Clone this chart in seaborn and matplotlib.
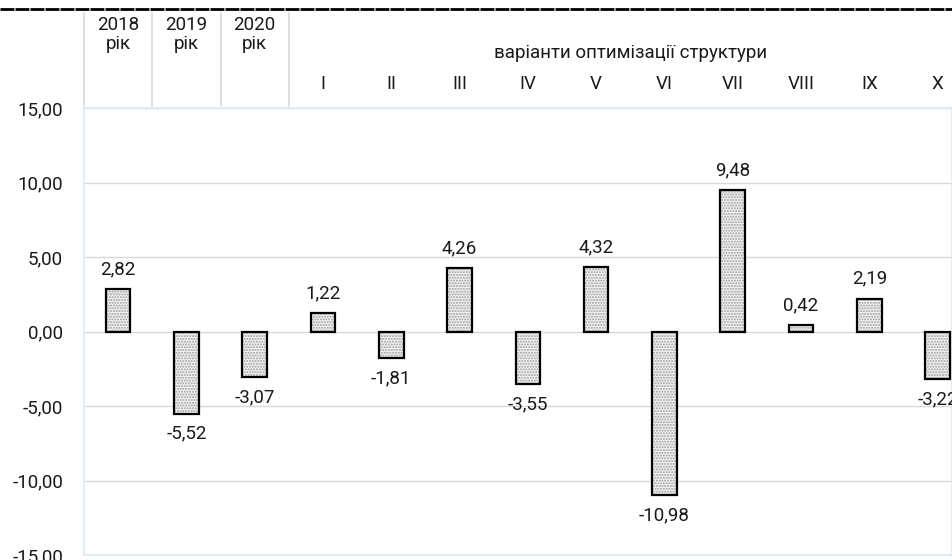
import matplotlib
matplotlib.use("Agg")
import matplotlib.pyplot as plt
from matplotlib.patches import Rectangle
from matplotlib.lines import Line2D
import matplotlib.transforms as mtransforms
import seaborn as sns

# Data
categories = ["2018", "2019", "2020", "I", "II", "III", "IV", "V",
              "VI", "VII", "VIII", "IX", "X"]
values = [2.82, -5.52, -3.07, 1.22, -1.81, 4.26, -3.55, 4.32,
          -10.98, 9.48, 0.42, 2.19, -3.22]
year_labels = ["2018\nрік", "2019\nрік", "2020\nрік"]
group_title = "варіанти оптимізації структури"
y_ticks = [-15, -10, -5, 0, 5, 10, 15]

sns.set_theme(style="white")
plt.rcParams["font.family"] = ["Roboto", "Noto Sans", "DejaVu Sans"]
plt.rcParams["hatch.linewidth"] = 1.0

FS = 13.5
TXT = "#1a1a1a"
W, H = 952, 560
fig = plt.figure(figsize=(W / 100, H / 100), dpi=100)

# plot area in pixels: left 84, top 108, bottom 555, right off the picture
ax = fig.add_axes([84 / W, 1 - 555 / H, 1 - 84 / W, (555 - 108) / H])

sns.barplot(x=categories, y=values, color="#f3f3f3", edgecolor="#9c9c9c",
            linewidth=0, width=0.36, saturation=1, ax=ax, zorder=3)
for p in list(ax.patches):
    p.set_hatch("......")
    ax.add_patch(Rectangle(p.get_xy(), p.get_width(), p.get_height(),
                           fill=False, edgecolor="black", linewidth=1.6, zorder=4))

labels = [f"{v:.2f}".replace(".", ",") for v in values]
ax.bar_label(ax.containers[0], labels=labels, padding=8, fontsize=FS, color=TXT)

ax.set_ylim(-15, 15)
ax.set_xlim(-0.5, (W - 118) / 68.3)
ax.set_yticks(y_ticks)
ax.set_yticklabels([f"{t:.2f}".replace(".", ",") for t in y_ticks], fontsize=FS, color=TXT)
ax.tick_params(axis="y", length=0, pad=15)
ax.set_xticks([])
ax.set_xlabel("")
ax.grid(axis="y", color="#d9d9d9", linewidth=1, zorder=0)
ax.set_axisbelow(True)
for s in ax.spines.values():
    s.set_color("#dfe7f1")
    s.set_linewidth(1.2)


def ay(py):
    # figure pixel row -> axes fraction
    return (555 - py) / (555 - 108)


trans = mtransforms.blended_transform_factory(ax.transData, ax.transAxes)

# header table
for i, lab in enumerate(year_labels):
    top, bottom = lab.split("\n")
    ax.text(i, ay(25), top, transform=trans, ha="center", va="center",
            fontsize=FS, color=TXT, clip_on=False)
    ax.text(i, ay(44), bottom, transform=trans, ha="center", va="center",
            fontsize=FS, color=TXT, clip_on=False)
for i in range(3, len(categories)):
    ax.text(i, ay(84), categories[i], transform=trans, ha="center", va="center",
            fontsize=FS, color=TXT, clip_on=False)
ax.text(7.5, ay(53), group_title, transform=trans, ha="center", va="center",
        fontsize=FS, color=TXT, clip_on=False)
for xb in [-0.5, 0.5, 1.5, 2.5]:
    ax.add_line(Line2D([xb, xb], [ay(13), ay(106)], transform=trans,
                       color="#d9d9d9", linewidth=1.2, clip_on=False))

# near-solid dashed rule at the top
fig.add_artist(Line2D([0, 1], [1 - 9 / H, 1 - 9 / H], transform=fig.transFigure,
                      color="black", linewidth=2.0, linestyle=(0, (5, 0.4))))

fig.savefig("out.png", dpi=100)
